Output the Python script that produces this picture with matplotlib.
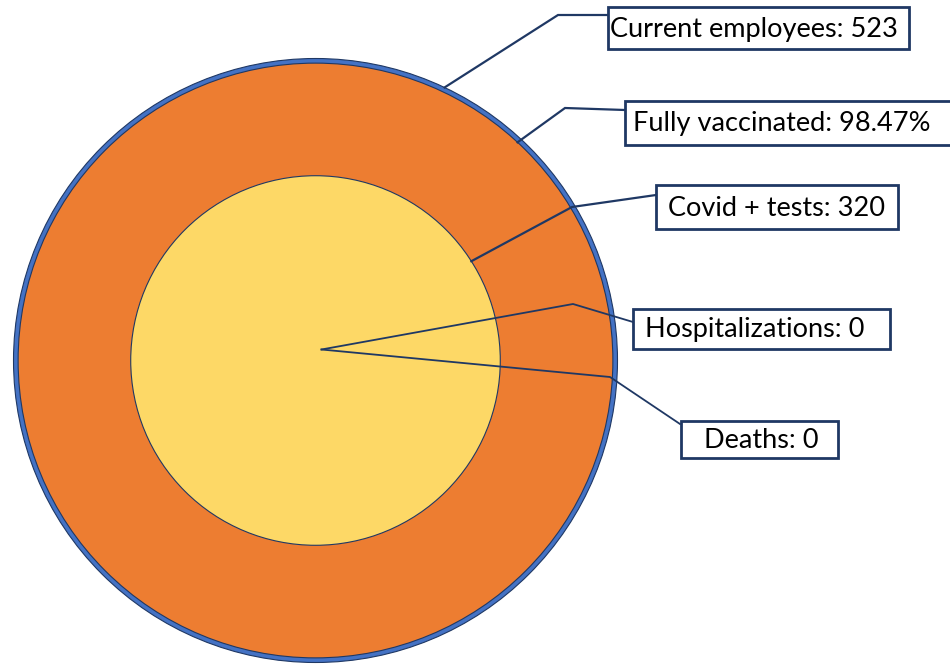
import matplotlib
matplotlib.use("Agg")
import matplotlib.pyplot as plt
from matplotlib.patches import Circle, Rectangle
import numpy as np

# ---- data ----
employees = 523
vaccinated_pct = 98.47
covid_tests = 320
hospitalizations = 0
deaths = 0

labels = ["Current employees: 523", "Fully vaccinated: 98.47%",
          "Covid + tests: 320", "Hospitalizations: 0", "Deaths: 0"]
values = [employees, employees * vaccinated_pct / 100.0, covid_tests,
          hospitalizations, deaths]

# ---- styling / layout ----
BLUE = "#4472C4"
ORANGE = "#ED7D31"
YELLOW = "#FDD866"
NAVY = "#1F3864"
plt.rcParams['font.family'] = ['Lato', 'DejaVu Sans']

fig = plt.figure(figsize=(9.5, 6.64), dpi=100)
ax = fig.add_axes([0, 0, 1, 1])
ax.set_xlim(0, 950)
ax.set_ylim(664, 0)
ax.set_aspect('equal')
ax.axis('off')

cx, cy = 315.5, 360.5
scale = 302.0 / employees  # px per unit

fills = [BLUE, ORANGE, YELLOW, YELLOW, YELLOW]
for v, fc in zip(values[:3], fills[:3]):
    ax.add_patch(Circle((cx, cy), v * scale, facecolor=fc,
                        edgecolor=NAVY, lw=0.8, zorder=2))

# leader anchor angles (deg, math convention), elbows, ends, boxes
angles = [64.7, 47.2, 32.5, None, None]
elbows = [(558, 15), (565, 108), (572, 207), (573, 304), (610, 377)]
ends = [(608, 15), (625, 110), (656, 195), (633, 322), (680, 424)]
boxes = [(608, 7, 301, 42), (625, 101, 340, 44), (656, 185, 242, 44),
         (633, 309, 257, 40), (681, 421, 157, 37)]
text_x = [610, 633, 668, 645, 704]
fsize = 19.5

for i, lab in enumerate(labels):
    r = values[i] * scale
    if angles[i] is None:
        ax_, ay_ = cx + 6, cy - 11
    else:
        a = np.deg2rad(angles[i])
        ax_, ay_ = cx + r * np.cos(a), cy - r * np.sin(a)
    ex, ey = elbows[i]
    tx, ty = ends[i]
    lw = 1.6 if i < 3 else 1.3
    ax.plot([ax_, ex, tx], [ay_, ey, ty], color=NAVY, lw=lw, zorder=3,
            solid_joinstyle='miter')
    bx, by, bw, bh = boxes[i]
    ax.add_patch(Rectangle((bx, by), bw, bh, facecolor='white',
                           edgecolor=NAVY, lw=2.0, zorder=4, clip_on=False))
    ax.text(text_x[i], by + bh / 2 + 1, lab, fontsize=fsize, color='black',
            ha='left', va='center', zorder=5)

fig.savefig("out.png", dpi=100)
